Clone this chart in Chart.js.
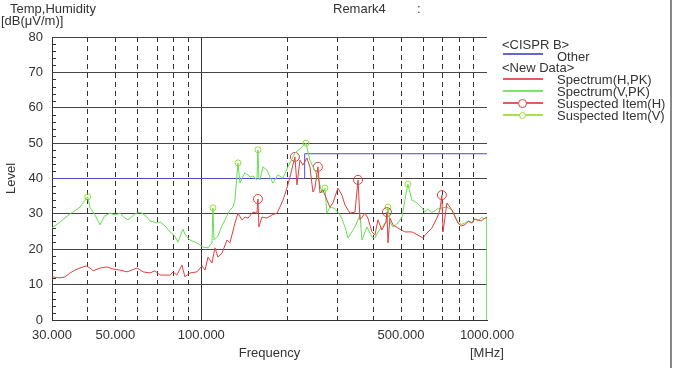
<!DOCTYPE html>
<html><head><meta charset="utf-8">
<script src="https://cdn.jsdelivr.net/npm/chart.js@4"></script>
<style>
body{margin:0;background:#fff;width:675px;height:368px;overflow:hidden;position:relative;font-family:"Liberation Sans",Arial,sans-serif;color:#333;}
#c{position:absolute;left:0;top:0;}
.t{position:absolute;font-size:13px;line-height:13px;white-space:nowrap;color:#333;}
.ln{position:absolute;height:2px;width:40px;left:503px;opacity:0.85;}
.dot{position:absolute;border-style:solid;border-width:1px;border-radius:50%;background:#fff;}
#edge{position:absolute;left:670px;top:0;width:2px;height:368px;background:#888;}
</style></head><body>
<canvas id="c" width="675" height="368"></canvas>
<div class="t" style="left:10px;top:2px">Temp,Humidity</div>
<div class="t" style="left:1px;top:14px">[dB(μV/m)]</div>
<div class="t" style="left:333px;top:2px">Remark4</div>
<div class="t" style="left:417px;top:2px">:</div>
<div class="t" style="left:470px;top:346px">[MHz]</div>
<div class="t" style="left:502px;top:38px">&lt;CISPR B&gt;</div>
<div class="ln" style="top:53px;background:#4b4bc8"></div>
<div class="t" style="left:557px;top:50px">Other</div>
<div class="t" style="left:502px;top:61px">&lt;New Data&gt;</div>
<div class="ln" style="top:78px;background:#e04040"></div>
<div class="t" style="left:557px;top:73px">Spectrum(H,PK)</div>
<div class="ln" style="top:90px;background:#66dd55"></div>
<div class="t" style="left:557px;top:85px">Spectrum(V,PK)</div>
<div class="ln" style="top:102px;background:#e04040"></div>
<div class="dot" style="left:518px;top:99px;width:7px;height:7px;border-color:#e04040"></div>
<div class="t" style="left:557px;top:97px">Suspected Item(H)</div>
<div class="ln" style="top:114px;background:#99dd33"></div>
<div class="dot" style="left:519px;top:112px;width:5px;height:5px;border-color:#99dd33"></div>
<div class="t" style="left:557px;top:109px">Suspected Item(V)</div>
<div id="edge"></div>
<script>
// ---- data ----
const xGridValues = [30,40,50,60,70,80,90,100,200,300,400,500,600,700,800,900,1000];
const xLabelValues = [30,50,100,500,1000];
const xLabelTexts = ['30.000','50.000','100.000','500.000','1000.000'];
const yMinorTicks = [2,4,6,8,12,14,16,18,22,24,26,28,32,34,36,38,42,44,46,48,52,54,56,58,62,64,66,68,72,74,76,78];

const limitFreq = [30,230,230,1000];
const limitLevel = [40,40,47,47];

const freqH = [30,32.0,33.3,34.7,36.1,37.6,39.5,40.7,41.8,44.2,46.8,49.1,51.9,54.9,59.6,62.5,66.1,68.8,71.6,77.7,79.6,82.1,85.5,87.6,91.2,96.5,100.5,103.0,105.5,108.9,111.6,114.3,118.1,122.9,125.9,131.1,134.3,138.7,142.1,145.6,151.6,156.5,157.8,159.0,163.0,169.7,176.6,183.9,188.4,193.0,199.4,204.2,212.6,216.1,221.4,226.8,234.2,239.9,245.8,249.8,255.9,260.1,266.5,275.2,281.9,288.8,300.7,310.6,318.3,331.3,345.0,353.5,359.2,373.8,382.9,395.5,405.2,415.1,428.7,442.8,446.4,450.0,457.3,468.5,487.8,516.0,546.0,573.1,596.5,616.1,641.4,667.8,684.0,695.1,701.5,723.9,753.6,790.9,812,836.9,860,885.3,905,929.2,955,983.3,1000];
const levelH = [12.2,11.9,12.2,13.3,14.1,14.7,15.3,14.7,13.9,14.7,15.0,14.4,14.1,13.6,14.7,13.6,13.3,13.9,12.7,12.7,13.6,12.7,15.5,12.2,13.3,13.6,15.3,14.1,17.8,16.1,20.4,17.8,18.9,22.6,21.8,27.4,30.2,28.3,29.1,28.8,30.5,30.2,34.2,26.3,29.1,28.8,29.7,30.2,31.9,33.9,37.3,40.4,46.1,38.2,45.2,43.8,45.8,43.3,36.2,37.3,43.3,35.9,36.7,33.9,31.9,33.1,37.3,35.3,32.5,30.2,30.5,39.6,28.3,30.2,28.8,24.9,24.0,28.3,25.4,27.7,30.5,21.8,28.8,26.9,26.0,24.9,24.9,24.0,23.2,24.6,26.0,28.8,31.1,35.3,24.9,33.1,31.1,27.4,26.6,26.9,27.9,27.4,28.5,28.3,28.0,28.8,29.0];

const freqV = [30,32.0,34.7,37.6,38.5,40,40.7,42.4,44.2,45.8,47.9,49.9,51.9,54.0,55.4,58.6,60.5,62.5,64.5,66.1,69.9,71.6,74.6,77.7,80.8,82.8,86.2,87.6,89.8,91.2,96.5,101.3,105.5,108.9,109.8,110.7,114.3,118.1,121.0,125.9,129.0,131.1,134.3,136.5,138.7,142.1,145.6,148.0,151.6,156.5,157.8,159.0,160.4,164.3,169.7,173.8,178.1,185.4,193.0,201.0,212.6,225.0,232.3,239.9,245.8,255.9,264.3,270.8,275.2,281.9,293.5,305.6,310.6,318.3,326.1,345.0,359.2,364.9,379.9,395.5,405.2,415.1,428.7,446.4,450.0,457.3,468.5,487.8,503.7,516.0,528.6,546.0,568.5,591.7,605,621.1,640,657.1,675,695.1,723.9,753.6,790.9,812,836.9,860,885.3,905,929.2,955,983.3,1000,1000];
const levelV = [26.0,27.7,30.0,31.9,33.1,34.8,31.9,29.7,26.9,29.4,30.2,29.7,30.2,28.8,28.3,30.0,30.5,30.0,29.1,28.0,27.4,27.7,26.6,24.9,23.7,22.0,25.7,24.3,23.2,22.6,21.8,20.6,20.4,21.8,31.7,22.6,23.7,26.6,28.3,31.1,31.9,33.9,44.4,38.7,40.1,41.6,41.0,40.4,40.7,39.6,48.1,40.2,39.6,43.3,42.4,40.4,38.7,41.0,40.1,43.3,47.2,48.9,50.0,45.2,43.3,40.4,35.9,37.3,30.2,31.9,31.5,29.7,28.6,26.3,23.2,26.3,29.7,22.6,26.3,23.5,23.2,24.9,26.3,28.0,31.9,27.7,26.3,27.4,29.1,33.9,38.4,33.9,33.1,31.7,30.6,31.4,30.4,30.9,31.5,31.7,31.9,31.1,27.7,27.0,27.4,28.0,27.6,28.6,28.0,29.0,28.6,29.2,0];

const markerFreqH = [157.8,212.6,255.9,353.5,446.4,695.1];
const markerLevelH = [34.2,46.1,43.3,39.6,30.5,35.3];
const markerFreqV = [40,109.8,134.3,157.8,232.3,270.8,450.0,528.6];
const markerLevelV = [34.8,31.7,44.4,48.1,50.0,37.3,31.9,38.4];

const pts = (xs, ys) => xs.map((x, i) => ({x: x, y: ys[i]}));

const minorPlugin = {
  id: 'minorTicks',
  afterDraw(c) {
    const y = c.scales.y, x = c.scales.x, g = c.ctx;
    g.save(); g.strokeStyle = '#333'; g.lineWidth = 1; g.beginPath();
    yMinorTicks.forEach(v => { const p = Math.round(y.getPixelForValue(v)) + 0.5; g.moveTo(x.left, p); g.lineTo(x.left + 4, p); });
    g.stroke(); g.restore();
  }
};

const font = {family: '"Liberation Sans", Arial, sans-serif', size: 13};

new Chart(document.getElementById('c'), {
  type: 'line',
  data: {datasets: [
    {label: 'Spectrum(H,PK)', data: pts(freqH, levelH), borderColor: '#e04040', borderWidth: 1, pointRadius: 0, tension: 0},
    {label: 'Spectrum(V,PK)', data: pts(freqV, levelV), borderColor: '#66dd55', borderWidth: 1, pointRadius: 0, tension: 0},
    {label: 'Other', data: pts(limitFreq, limitLevel), borderColor: '#4b4bc8', borderWidth: 1, pointRadius: 0, tension: 0},
    {label: 'Suspected Item(H)', data: pts(markerFreqH, markerLevelH), showLine: false, pointStyle: 'circle', pointRadius: 4.5, pointBorderWidth: 1, pointBorderColor: '#e04040', pointBackgroundColor: 'rgba(0,0,0,0)'},
    {label: 'Suspected Item(V)', data: pts(markerFreqV, markerLevelV), showLine: false, pointStyle: 'circle', pointRadius: 3, pointBorderWidth: 1, pointBorderColor: '#99dd33', pointBackgroundColor: 'rgba(0,0,0,0)'}
  ]},
  options: {
    responsive: false, animation: false,
    layout: {padding: {top: 37, right: 188, left: 0, bottom: 0}},
    plugins: {legend: {display: false}, tooltip: {enabled: false}},
    scales: {
      x: {
        type: 'logarithmic', min: 30, max: 1000,
        afterBuildTicks: s => { s.ticks = xGridValues.map(v => ({value: v})); },
        afterFit: s => { s.height = 48; },
        ticks: {autoSkip: false, maxRotation: 0, minRotation: 0, padding: 8, font: font, color: '#333',
          callback: v => { const i = xLabelValues.indexOf(v); return i >= 0 ? xLabelTexts[i] : ''; }},
        grid: {drawTicks: false, lineWidth: 1,
          color: ctx => (ctx.tick && ctx.tick.value === 1000) ? 'rgba(0,0,0,0)' : '#333'},
        border: {display: true, color: '#333', dash: ctx => (ctx.tick && ctx.tick.value !== 100 && ctx.tick.value !== 30) ? [5, 4] : []},
        title: {display: true, text: 'Frequency', font: font, color: '#333', padding: {top: 0, bottom: 7}}
      },
      y: {
        min: 0, max: 80,
        afterFit: s => { s.width = 52; },
        ticks: {stepSize: 10, padding: 9, font: font, color: '#333'},
        grid: {drawTicks: false, color: '#444', lineWidth: 1},
        border: {display: true, color: '#333'},
        title: {display: true, text: 'Level', font: font, color: '#333', padding: {top: 4, bottom: 0}}
      }
    }
  },
  plugins: [minorPlugin]
});
</script>
</body></html>
